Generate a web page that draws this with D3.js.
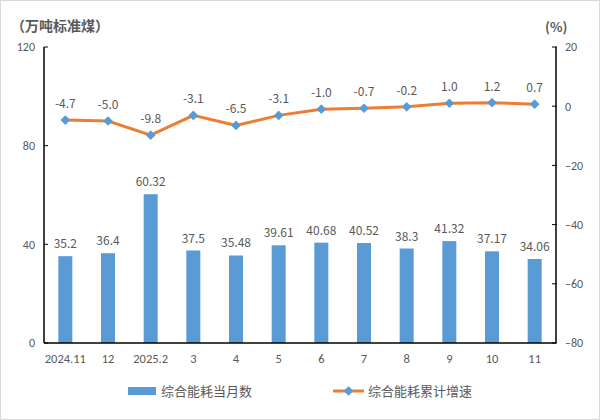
<!DOCTYPE html>
<html><head><meta charset="utf-8">
<script src="https://cdn.jsdelivr.net/npm/d3@7"></script>
<style>body{margin:0;background:#fff}svg{display:block;font-family:"Microsoft YaHei","Noto Sans CJK SC",sans-serif}</style>
</head><body>
<svg id="c" width="600" height="420"></svg>
<script>
const categories = ["2024.11","12","2025.2","3","4","5","6","7","8","9","10","11"];
const monthly = [35.2,36.4,60.32,37.5,35.48,39.61,40.68,40.52,38.3,41.32,37.17,34.06];
const monthlyLabels = ["35.2","36.4","60.32","37.5","35.48","39.61","40.68","40.52","38.3","41.32","37.17","34.06"];
const growth = [-4.7,-5.0,-9.8,-3.1,-6.5,-3.1,-1.0,-0.7,-0.2,1.0,1.2,0.7];
const leftTicks = [0,40,80,120];
const rightTicks = [-80,-60,-40,-20,0,20];
const seriesNames = ["综合能耗当月数","综合能耗累计增速"];

const svg = d3.select("#c");
const L=44,R=556,T=47,B=343;
const gray="#595959", blue="#5B9BD5", orange="#ED7D31";
svg.append("rect").attr("x",0.5).attr("y",0.5).attr("width",599).attr("height",419).attr("fill","#fff").attr("stroke","#d9d9d9");

const x = d3.scaleBand().domain(categories).range([L,R]);
const yL = d3.scaleLinear().domain([0,120]).range([B,T]);
const yR = d3.scaleLinear().domain([-80,20]).range([B,T]);

// bars
svg.selectAll(".bar").data(monthly).join("rect")
  .attr("x",(d,i)=>x(categories[i])+x.bandwidth()/2-7)
  .attr("width",14)
  .attr("y",d=>yL(d)).attr("height",d=>B-yL(d)).attr("fill",blue);
svg.selectAll(".bl").data(monthly).join("text")
  .attr("x",(d,i)=>x(categories[i])+x.bandwidth()/2)
  .attr("y",d=>yL(d)-8).attr("text-anchor","middle")
  .attr("font-size",12).attr("fill",gray).text((d,i)=>monthlyLabels[i]);

const tf = "Calibri,Carlito,'Liberation Sans',sans-serif";
// axes
const ax = svg.append("g").attr("transform",`translate(${L},0)`).call(d3.axisLeft(yL).tickValues(leftTicks).tickSize(0).tickPadding(9));
ax.select(".domain").remove();
ax.selectAll("text").attr("font-size",12).attr("fill",gray).attr("font-family",tf);
svg.append("line").attr("x1",L).attr("x2",L).attr("y1",T).attr("y2",B).attr("stroke","#000").attr("stroke-width",1.5);
leftTicks.forEach(t=>svg.append("line").attr("x1",L).attr("x2",L+4).attr("y1",yL(t)).attr("y2",yL(t)).attr("stroke","#000"));

const ar = svg.append("g").attr("transform",`translate(${R},0)`).call(d3.axisRight(yR).tickValues(rightTicks).tickSize(0).tickPadding(9));
ar.select(".domain").remove();
ar.selectAll("text").attr("font-size",12).attr("fill",gray).attr("font-family",tf);
svg.append("line").attr("x1",R).attr("x2",R).attr("y1",T).attr("y2",B).attr("stroke","#000").attr("stroke-width",1.5);
rightTicks.forEach(t=>svg.append("line").attr("x1",R-4).attr("x2",R+1).attr("y1",yR(t)).attr("y2",yR(t)).attr("stroke","#000"));

const axb = svg.append("g").attr("transform",`translate(0,${B})`).call(d3.axisBottom(x).tickSize(0).tickPadding(11));
axb.select(".domain").remove();
axb.selectAll("text").attr("font-size",12.5).attr("fill",gray).attr("font-family",tf);
svg.append("line").attr("x1",L).attr("x2",R).attr("y1",B).attr("y2",B).attr("stroke","#000").attr("stroke-width",1.5);

// line
const line = d3.line().x((d,i)=>x(categories[i])+x.bandwidth()/2).y(d=>yR(d));
svg.append("path").datum(growth).attr("d",line).attr("fill","none").attr("stroke",orange).attr("stroke-width",3);
const diamond = d3.symbol().type(d3.symbolDiamond2).size(60);
svg.selectAll(".pt").data(growth).join("path")
  .attr("d",diamond)
  .attr("transform",(d,i)=>`translate(${x(categories[i])+x.bandwidth()/2},${yR(d)})`)
  .attr("fill",blue);
svg.selectAll(".ll").data(growth).join("text")
  .attr("x",(d,i)=>x(categories[i])+x.bandwidth()/2)
  .attr("y",d=>yR(d)-12).attr("text-anchor","middle")
  .attr("font-size",12).attr("fill",gray).text(d=>d.toFixed(1));

// titles
svg.append("text").attr("x",11).attr("y",31).attr("font-size",14).attr("font-weight","bold").attr("fill",gray).text("（万吨标准煤）");
svg.append("text").attr("x",545).attr("y",32).attr("font-size",13).attr("font-weight","bold").attr("fill",gray).text("(%)");

// legend
svg.append("rect").attr("x",128).attr("y",387).attr("width",28).attr("height",8).attr("fill",blue);
svg.append("text").attr("x",161).attr("y",396).attr("font-size",13).attr("fill",gray).text(seriesNames[0]);
svg.append("line").attr("x1",333).attr("x2",364).attr("y1",391).attr("y2",391).attr("stroke",orange).attr("stroke-width",3);
svg.append("path").attr("d",diamond).attr("transform","translate(348.5,391)").attr("fill",blue);
svg.append("text").attr("x",368).attr("y",396).attr("font-size",13).attr("fill",gray).text(seriesNames[1]);
</script>
</body></html>
